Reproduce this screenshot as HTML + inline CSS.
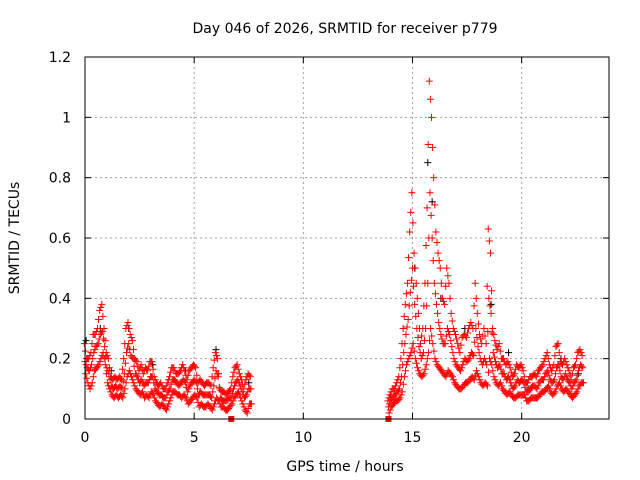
<!DOCTYPE html>
<html><head><meta charset="utf-8"><style>
body{margin:0;background:#fff}
svg{display:block;font-family:"DejaVu Sans","Liberation Sans",sans-serif}
</style></head><body>
<svg id="chart" width="640" height="480" viewBox="0 0 640 480">
<rect width="640" height="480" fill="#fff"/>
<text x="345" y="33" font-size="14" text-anchor="middle">Day 046 of 2026, SRMTID for receiver p779</text>
<text x="345" y="471" font-size="14" text-anchor="middle">GPS time / hours</text>
<text transform="translate(19,238) rotate(-90)" font-size="14" text-anchor="middle">SRMTID / TECUs</text>
<g id="grid"></g>
<g id="ticks"></g>
<g id="black"></g>
<g id="red"></g>
<rect x="85" y="57" width="524" height="362" fill="none" stroke="#000" stroke-width="1"/>
</svg>
<script>
const xTicks=[0,5,10,15,20];
const yTicks=[0,0.2,0.4,0.6,0.8,1,1.2];
const yTickLabels=["0","0.2","0.4","0.6","0.8","1","1.2"];
const segAStart=0.0, segBStart=13.9, step=0.1;
const redHiA=[0.25,0.2,0.2,0.22,0.28,0.28,0.3,0.36,0.38,0.3,0.22,0.2,0.14,0.13,0.14,0.13,0.14,0.13,0.2,0.3,0.32,0.28,0.26,0.2,0.19,0.16,0.18,0.15,0.17,0.16,0.19,0.19,0.14,0.12,0.11,0.12,0.1,0.1,0.12,0.14,0.17,0.17,0.15,0.15,0.16,0.18,0.16,0.13,0.16,0.17,0.18,0.17,0.12,0.13,0.12,0.11,0.12,0.12,0.11,0.17,0.22,0.2,0.1,0.09,0.09,0.08,0.09,0.1,0.14,0.17,0.18,0.15,0.13,0.1,0.13,0.15,0.14];
const redMidA=[0.19,0.17,0.16,0.18,0.22,0.24,0.25,0.28,0.29,0.24,0.17,0.15,0.11,0.1,0.11,0.1,0.11,0.1,0.15,0.22,0.25,0.21,0.2,0.15,0.14,0.12,0.13,0.11,0.12,0.12,0.14,0.14,0.1,0.09,0.08,0.08,0.07,0.07,0.09,0.1,0.13,0.13,0.12,0.11,0.12,0.13,0.12,0.09,0.11,0.12,0.13,0.12,0.08,0.09,0.08,0.08,0.08,0.08,0.07,0.11,0.16,0.14,0.07,0.06,0.06,0.06,0.07,0.07,0.1,0.12,0.13,0.11,0.09,0.07,0.08,0.1,0.1];
const redLoA=[0.15,0.12,0.1,0.12,0.16,0.17,0.18,0.2,0.22,0.18,0.12,0.1,0.08,0.07,0.08,0.07,0.08,0.07,0.1,0.14,0.16,0.14,0.12,0.1,0.09,0.08,0.09,0.07,0.08,0.07,0.09,0.08,0.06,0.05,0.04,0.05,0.04,0.03,0.05,0.07,0.09,0.09,0.08,0.08,0.07,0.08,0.07,0.05,0.06,0.07,0.08,0.07,0.04,0.05,0.04,0.04,0.05,0.04,0.03,0.05,0.07,0.06,0.04,0.04,0.03,0.03,0.04,0.05,0.07,0.08,0.09,0.07,0.05,0.03,0.02,0.05,0.05];
const redHiB=[0.06,0.08,0.1,0.1,0.12,0.14,0.2,0.3,0.38,0.45,0.62,0.75,0.55,0.45,0.35,0.25,0.3,0.45,0.7,1.12,1.0,0.8,0.62,0.55,0.5,0.4,0.38,0.5,0.45,0.35,0.3,0.28,0.25,0.22,0.27,0.28,0.27,0.3,0.32,0.3,0.45,0.35,0.28,0.25,0.3,0.25,0.63,0.55,0.3,0.26,0.23,0.25,0.2,0.2,0.18,0.19,0.17,0.14,0.15,0.18,0.17,0.18,0.16,0.12,0.12,0.14,0.14,0.15,0.14,0.16,0.17,0.18,0.2,0.22,0.18,0.16,0.18,0.24,0.25,0.19,0.18,0.2,0.18,0.16,0.13,0.17,0.18,0.22,0.23,0.21];
const redMidB=[0.04,0.06,0.07,0.08,0.09,0.1,0.14,0.22,0.28,0.33,0.42,0.5,0.38,0.3,0.24,0.2,0.22,0.3,0.45,0.75,0.6,0.45,0.38,0.32,0.28,0.25,0.25,0.3,0.28,0.24,0.2,0.18,0.17,0.16,0.18,0.2,0.19,0.2,0.22,0.21,0.3,0.24,0.2,0.18,0.2,0.18,0.4,0.35,0.22,0.19,0.17,0.18,0.15,0.15,0.13,0.14,0.12,0.1,0.11,0.13,0.12,0.13,0.12,0.09,0.09,0.1,0.11,0.11,0.1,0.12,0.13,0.13,0.15,0.16,0.13,0.12,0.13,0.17,0.18,0.14,0.13,0.15,0.13,0.12,0.1,0.12,0.13,0.16,0.18,0.17];
const redLoB=[0.02,0.04,0.05,0.06,0.06,0.07,0.09,0.14,0.18,0.2,0.22,0.25,0.2,0.17,0.15,0.14,0.15,0.18,0.22,0.3,0.25,0.2,0.18,0.17,0.16,0.15,0.14,0.16,0.15,0.14,0.12,0.11,0.1,0.1,0.11,0.12,0.12,0.13,0.14,0.13,0.16,0.14,0.12,0.11,0.12,0.11,0.2,0.18,0.14,0.12,0.11,0.12,0.1,0.09,0.08,0.09,0.08,0.07,0.07,0.08,0.08,0.08,0.08,0.06,0.06,0.07,0.07,0.07,0.07,0.08,0.09,0.09,0.1,0.11,0.09,0.08,0.09,0.11,0.12,0.1,0.09,0.1,0.09,0.08,0.07,0.08,0.09,0.11,0.12,0.12];
const blackT=[0.05,0.7,1.2,2.0,3.1,4.6,6.0,7.5,14.0,15.1,15.7,15.9,16.3,17.4,18.6,19.4,20.3,21.8,22.6];
const blackV=[0.26,0.3,0.16,0.3,0.18,0.16,0.23,0.12,0.08,0.5,0.85,0.72,0.4,0.3,0.38,0.22,0.1,0.2,0.15];
const zeroT=[6.7,13.9];
const zeroV=[0,0];

const X0=85,X1=609,Y0=419,Y1=57,XMAX=24,YMAX=1.2;
const xs=t=>X0+(X1-X0)*t/XMAX;
const ys=v=>Y0-(Y0-Y1)*v/YMAX;
const NS="http://www.w3.org/2000/svg";
function mk(tag,attrs,parent){const e=document.createElementNS(NS,tag);for(const k in attrs)e.setAttribute(k,attrs[k]);parent.appendChild(e);return e;}
const grid=document.getElementById('grid'),ticks=document.getElementById('ticks');
xTicks.forEach((t,i)=>{
  const x=xs(t);
  if(i>0){const g=mk('line',{x1:x,x2:x,y1:Y0,y2:Y1,stroke:'#a0a0a0','stroke-dasharray':'2,3'},grid);
  
  }
  mk('line',{x1:x,x2:x,y1:Y0,y2:Y0-6,stroke:'#000'},ticks);
  mk('line',{x1:x,x2:x,y1:Y1,y2:Y1+6,stroke:'#000'},ticks);
  const tx=mk('text',{x:x,y:Y0+23,'font-size':14,'text-anchor':'middle'},ticks);tx.textContent=String(t);
  
  
});
yTicks.forEach((v,i)=>{
  const y=ys(v);
  if(i>0&&i<yTicks.length-1){const g=mk('line',{x1:X0,x2:X1,y1:y,y2:y,stroke:'#a0a0a0','stroke-dasharray':'2,3'},grid);
  
  }
  mk('line',{x1:X0,x2:X0+6,y1:y,y2:y,stroke:'#000'},ticks);
  mk('line',{x1:X1,x2:X1-6,y1:y,y2:y,stroke:'#000'},ticks);
  const tx=mk('text',{x:X0-14,y:y+5,'font-size':14,'text-anchor':'end'},ticks);tx.textContent=yTickLabels[i];
  
  
});
function plus(parent,t,v,color){
  const x=xs(t),y=ys(v);
  const p=mk('path',{d:`M${x-3.5},${y}H${x+3.5}M${x},${y-3.5}V${y+3.5}`,stroke:color,'stroke-width':1,fill:'none'},parent);
  
  
}
const black=document.getElementById('black'),red=document.getElementById('red');
blackT.forEach((t,i)=>plus(black,t,blackV[i],'#000'));
[[segAStart,[redHiA,redMidA,redLoA]],[segBStart,[redHiB,redMidB,redLoB]]].forEach(([s,arrs])=>{
  arrs.forEach((arr,k)=>arr.forEach((v,i)=>{
    const t=s+i*step+(k-1)*0.03;
    plus(red,t,v,'#ff0000');
    if(i+1<arr.length){plus(red,t+0.05,(v+arr[i+1])/2,'#ff0000');}
  }));
});
zeroT.forEach((t,i)=>{const r=mk('rect',{x:xs(t)-3,y:ys(zeroV[i])-3,width:6,height:6,fill:'#ff0000'},red);

});
</script>
</body></html>
